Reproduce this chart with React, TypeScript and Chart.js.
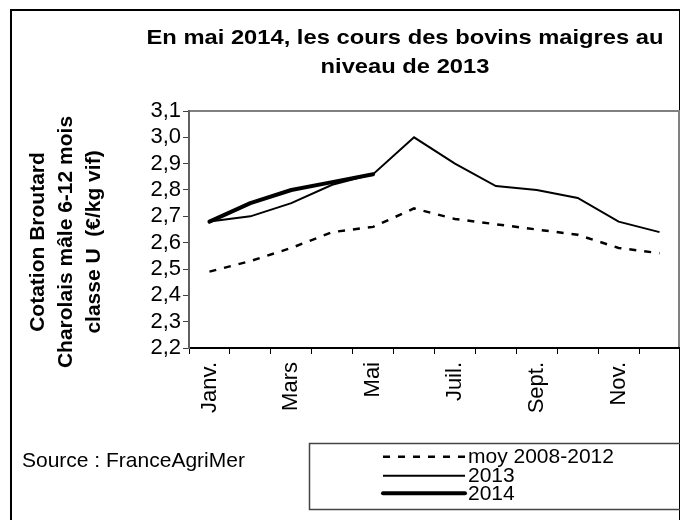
import React, { useEffect, useRef } from 'react';
import { Chart, registerables } from 'chart.js';

Chart.register(...registerables);

const MONTHS = ['Janv.', 'Févr.', 'Mars', 'Avr.', 'Mai', 'Juin', 'Juil.', 'Août', 'Sept.', 'Oct.', 'Nov.', 'Déc.'];
const AVG_2008_2012 = [2.49, 2.53, 2.58, 2.64, 2.66, 2.73, 2.69, 2.67, 2.65, 2.63, 2.58, 2.56];
const Y2013 = [2.68, 2.7, 2.75, 2.82, 2.86, 3.0, 2.9, 2.815, 2.8, 2.77, 2.68, 2.64];
const Y2014 = [2.68, 2.75, 2.8, 2.83, 2.86, null, null, null, null, null, null, null];
const Y_MIN = 2.2;
const Y_MAX = 3.1;
const Y_STEP = 0.1;
const SERIES_NAMES = ['moy 2008-2012', '2013', '2014'];
const TITLE_LINES = ['En mai 2014, les cours des bovins maigres au', 'niveau de 2013'];
const Y_TITLE_LINES = ['Cotation Broutard', 'Charolais mâle 6-12 mois', 'classe U  (€/kg vif)'];
const SOURCE = 'Source : FranceAgriMer';

const FONT = "'Liberation Sans', Arial, sans-serif";

const decor = {
  id: 'decor',
  beforeDraw(chart: any) {
    const { ctx, chartArea: a } = chart;
    ctx.save();
    ctx.fillStyle = '#fff';
    ctx.fillRect(0, 0, chart.width, chart.height);
    ctx.strokeStyle = '#000';
    ctx.lineWidth = 2;
    ctx.strokeRect(11, 10, 669, 530);
    ctx.strokeStyle = '#808080';
    ctx.lineWidth = 2;
    ctx.strokeRect(a.left, a.top, a.right - a.left - 1, a.bottom - a.top);
    ctx.restore();
  },
  afterDraw(chart: any) {
    const { ctx } = chart;
    ctx.save();
    ctx.fillStyle = '#000';
    // title
    ctx.font = `bold 21px ${FONT}`;
    ctx.textAlign = 'center';
    ctx.textBaseline = 'alphabetic';
    const titleBase = [43.5, 73];
    TITLE_LINES.forEach((t, i) => {
      ctx.save();
      ctx.translate(405, titleBase[i]);
      ctx.scale(1.13, 1);
      ctx.fillText(t, 0, 0);
      ctx.restore();
    });
    // y axis title
    const yBase = [44, 72, 100];
    Y_TITLE_LINES.forEach((t, i) => {
      ctx.save();
      ctx.translate(yBase[i], 242);
      ctx.rotate(-Math.PI / 2);
      ctx.fillText(t, 0, 0);
      ctx.restore();
    });
    // source
    ctx.font = `21px ${FONT}`;
    ctx.textAlign = 'left';
    ctx.fillText(SOURCE, 22, 467);
    // legend box
    ctx.strokeStyle = '#444';
    ctx.lineWidth = 1.5;
    ctx.strokeRect(309.5, 443.5, 380, 66);
    const rows = [456.7, 475.7, 493.3];
    ctx.textBaseline = 'middle';
    [0, 1, 2].forEach((di, r) => {
      const ds = chart.data.datasets[di];
      ctx.save();
      ctx.strokeStyle = ds.borderColor;
      ctx.lineWidth = ds.borderWidth;
      ctx.setLineDash(ds.borderDash || []);
      ctx.lineCap = ds.borderCapStyle || 'butt';
      ctx.beginPath();
      ctx.moveTo(383, rows[r]);
      ctx.lineTo(465, rows[r]);
      ctx.stroke();
      ctx.restore();
      ctx.fillText(ds.label, 468, rows[r] + 1);
    });
    ctx.restore();
  },
};

export default function App() {
  const ref = useRef<HTMLCanvasElement>(null);
  useEffect(() => {
    document.body.style.margin = '0';
    const canvas = ref.current!;
    const chart = new Chart(canvas, {
      type: 'line',
      data: {
        labels: MONTHS,
        datasets: [
          {
            label: SERIES_NAMES[0],
            data: AVG_2008_2012,
            borderColor: '#000',
            borderWidth: 2.5,
            borderDash: [7, 8],
            pointRadius: 0,
            tension: 0,
            order: 2,
          },
          {
            label: SERIES_NAMES[1],
            data: Y2013,
            borderColor: '#000',
            borderWidth: 2,
            pointRadius: 0,
            tension: 0,
            order: 1,
          },
          {
            label: SERIES_NAMES[2],
            data: Y2014,
            borderColor: '#000',
            borderWidth: 4,
            borderCapStyle: 'round',
            borderJoinStyle: 'round',
            pointRadius: 0,
            tension: 0,
            spanGaps: false,
            order: 0,
          },
        ],
      },
      options: {
        responsive: false,
        devicePixelRatio: 1,
        animation: false,
        layout: { padding: { top: 111, left: 0, right: 0, bottom: 0 } },
        plugins: {
          legend: { display: false },
          title: { display: false },
          tooltip: { enabled: false },
        },
        scales: {
          x: {
            offset: true,
            grid: {
              offset: true,
              drawOnChartArea: false,
              drawTicks: true,
              tickLength: 6,
              color: '#000',
              lineWidth: 1,
            },
            border: { color: '#000', width: 2 },
            ticks: {
              autoSkip: false,
              minRotation: 90,
              maxRotation: 90,
              padding: 8,
              color: '#000',
              font: { family: FONT, size: 22 },
              callback: (_v: any, i: number) => (i % 2 === 0 ? MONTHS[i] : ''),
            },
            afterFit: (s: any) => {
              s.height = 172;
              s.paddingLeft = 0;
              s.paddingRight = 0;
            },
          },
          y: {
            min: Y_MIN,
            max: Y_MAX,
            grid: {
              drawOnChartArea: false,
              drawTicks: true,
              tickLength: 6,
              color: '#404040',
              lineWidth: 1,
            },
            border: { color: '#606060', width: 2 },
            ticks: {
              stepSize: Y_STEP,
              autoSkip: false,
              padding: 2,
              color: '#000',
              font: { family: FONT, size: 22 },
              callback: (v: any) => Number(v).toFixed(1).replace('.', ','),
            },
            afterFit: (s: any) => {
              s.width = 189;
              s.paddingTop = 0;
              s.paddingBottom = 0;
            },
          },
        },
      },
      plugins: [decor],
    });
    return () => chart.destroy();
  }, []);
  return (
    <div style={{ width: 680, height: 520 }}>
      <canvas ref={ref} width={680} height={520} />
    </div>
  );
}
